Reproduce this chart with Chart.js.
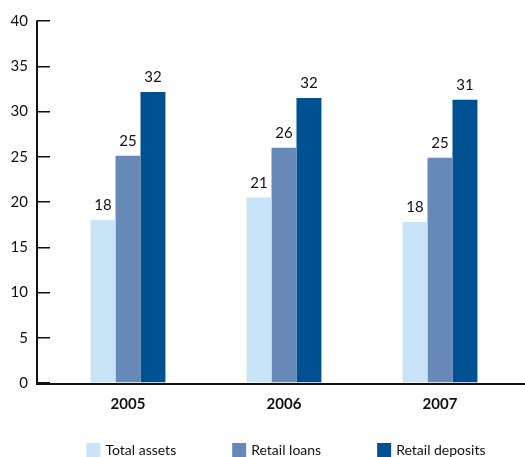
<!DOCTYPE html>
<html>
<head>
<meta charset="utf-8">
<script src="https://cdn.jsdelivr.net/npm/chart.js@4/dist/chart.umd.min.js"></script>
<style>
  html, body { margin: 0; padding: 0; background: #fff; }
  #wrap { width: 525px; height: 457px; }
</style>
</head>
<body>
<div id="wrap"><canvas id="chart" width="525" height="457"></canvas></div>
<script>
const years = ['2005', '2006', '2007'];
const totalAssets = [18.0, 20.5, 17.8];
const retailLoans = [25.1, 26.0, 24.9];
const retailDeposits = [32.15, 31.5, 31.3];
const yTicks = [0, 5, 10, 15, 20, 25, 30, 35, 40];

const FONT = 'Lato, "Noto Sans", sans-serif';
const INK = '#111';
const TICK_LEN = 13;

// value labels above each bar
const barLabels = {
    id: 'barLabels',
    afterDatasetsDraw(chart) {
        const ctx = chart.ctx;
        ctx.save();
        ctx.font = '15px ' + FONT;
        ctx.fillStyle = INK;
        ctx.textAlign = 'center';
        ctx.textBaseline = 'bottom';
        chart.data.datasets.forEach((ds, i) => {
            chart.getDatasetMeta(i).data.forEach((bar, j) => {
                ctx.fillText(Math.round(ds.data[j]), bar.x, bar.y - 7);
            });
        });
        ctx.restore();
    }
};

// axis lines: y axis sits left of the tick marks, baseline runs to the edge
const axisLines = {
    id: 'axisLines',
    afterDraw(chart) {
        const y = chart.scales.y;
        const ctx = chart.ctx;
        const x0 = y.right - TICK_LEN;
        const top = y.getPixelForValue(yTicks[yTicks.length - 1]);
        const base = y.getPixelForValue(0);
        ctx.save();
        ctx.strokeStyle = INK;
        ctx.lineWidth = 2;
        ctx.beginPath();
        ctx.moveTo(x0, top - 0.5);
        ctx.lineTo(x0, base + 1);
        ctx.lineTo(chart.width, base + 1);
        ctx.stroke();
        ctx.restore();
    }
};

// legend in one row with wide gaps, under the year labels
const wideLegend = {
    id: 'wideLegend',
    afterDraw(chart) {
        const ctx = chart.ctx;
        const area = chart.chartArea;
        const box = 14, gap = 5, spacing = 56;
        ctx.save();
        ctx.font = '14px ' + FONT;
        const items = chart.data.datasets.map(ds => ({
            text: ds.label,
            color: ds.backgroundColor,
            w: box + gap + ctx.measureText(ds.label).width
        }));
        const total = items.reduce((s, it) => s + it.w, 0) + spacing * (items.length - 1);
        let x = (area.left + area.right) / 2 - total / 2 + 2;
        const top = chart.height - 14;
        ctx.textBaseline = 'middle';
        ctx.textAlign = 'left';
        items.forEach(it => {
            ctx.fillStyle = it.color;
            ctx.fillRect(x, top, box, box);
            ctx.fillStyle = INK;
            ctx.fillText(it.text, x + box + gap, top + 7);
            x += it.w + spacing;
        });
        ctx.restore();
    }
};

new Chart(document.getElementById('chart'), {
    type: 'bar',
    data: {
        labels: years,
        datasets: [
            { label: 'Total assets', data: totalAssets, backgroundColor: '#c8e4f6' },
            { label: 'Retail loans', data: retailLoans, backgroundColor: '#6789b8' },
            { label: 'Retail deposits', data: retailDeposits, backgroundColor: '#005192' }
        ]
    },
    options: {
        responsive: false,
        animation: false,
        categoryPercentage: 0.48,
        barPercentage: 1,
        layout: {
            padding: { top: 21, left: 0, right: 7, bottom: 34 }
        },
        scales: {
            x: {
                grid: { display: false },
                border: { display: false },
                ticks: {
                    color: INK,
                    padding: 4,
                    font: { family: FONT, size: 15, weight: 'bold' }
                },
                afterFit(scale) { scale.height = 40; }
            },
            y: {
                min: 0,
                max: 40,
                afterBuildTicks(scale) { scale.ticks = yTicks.map(v => ({ value: v })); },
                afterFit(scale) { scale.width = 50; },
                grid: {
                    drawOnChartArea: false,
                    drawTicks: true,
                    tickLength: TICK_LEN,
                    color: INK,
                    lineWidth: 1.5
                },
                border: { display: false },
                ticks: {
                    color: INK,
                    padding: 9,
                    font: { family: FONT, size: 15 }
                }
            }
        },
        plugins: {
            legend: { display: false },
            tooltip: { enabled: false }
        }
    },
    plugins: [barLabels, axisLines, wideLegend]
});
</script>
</body>
</html>
